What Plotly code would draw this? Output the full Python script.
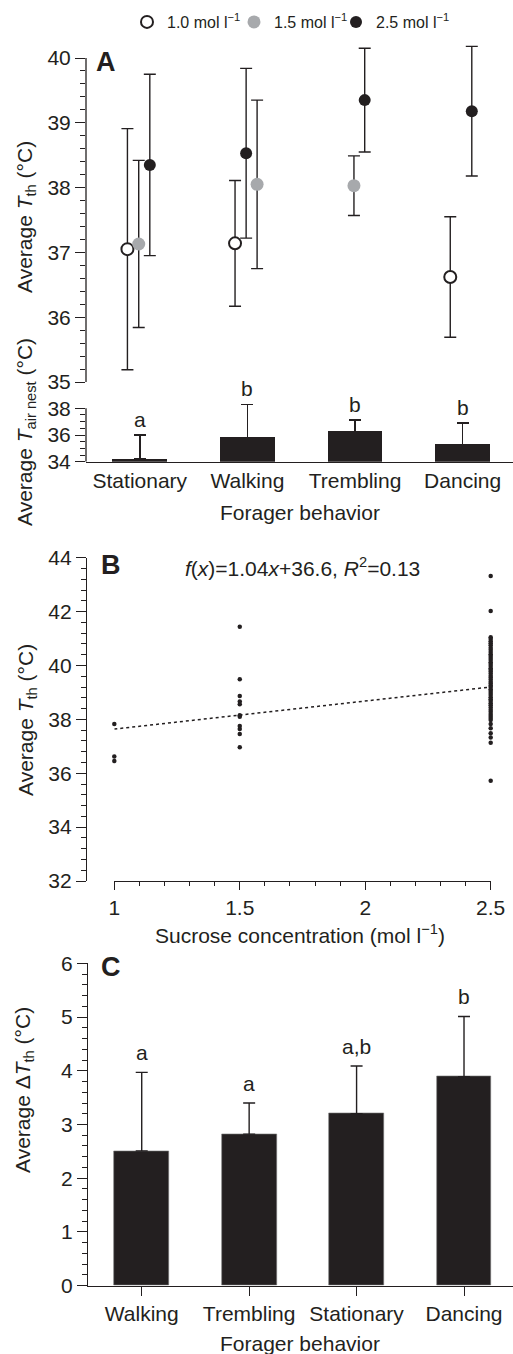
import plotly.graph_objects as go

# ---------------- data ----------------
# Panel A (upper): average thorax temperature per behaviour and sucrose concentration
behaviours_A = ["Stationary", "Walking", "Trembling", "Dancing"]
conc_names = ["1.0 mol l<sup>−1</sup>", "1.5 mol l<sup>−1</sup>", "2.5 mol l<sup>−1</sup>"]
tth_10_mean = [37.05, 37.14, None, 36.62]
tth_10_err = [1.86, 0.97, None, 0.93]
tth_15_mean = [37.13, 38.05, 38.03, None]
tth_15_err = [1.29, 1.30, 0.46, None]
tth_25_mean = [38.35, 38.53, 39.35, 39.18]
tth_25_err = [1.40, 1.31, 0.80, 1.00]

# Panel A (lower): average nest air temperature
air_nest_mean = [34.2, 35.8, 36.26, 35.3]
air_nest_err = [1.8, 2.5, 0.85, 1.6]
air_nest_letters = ["a", "b", "b", "b"]

# Panel B: individual thorax temperatures by sucrose concentration
tth_at_1_0 = [37.83, 36.62, 36.45]
tth_at_1_5 = [41.44, 39.49, 38.87, 38.66, 38.56, 38.15, 38.10, 37.75, 37.64, 37.46, 36.96]
tth_at_2_5 = [43.32, 42.02, 41.05, 40.98, 40.90, 40.82, 40.75, 40.66, 40.58, 40.50,
              40.42, 40.35, 40.28, 40.20, 40.12, 40.05, 39.98, 39.90, 39.84, 39.78,
              39.70, 39.62, 39.55, 39.48, 39.40, 39.33, 39.26, 39.20, 39.12, 39.05,
              38.98, 38.90, 38.82, 38.75, 38.68, 38.60, 38.52, 38.44, 38.36, 38.28,
              38.20, 38.12, 38.05, 37.98, 37.83, 37.67, 37.48, 37.33, 37.13, 35.72]
fit_slope = 1.04
fit_intercept = 36.6
fit_r2 = 0.13
fit_x = [1.0, 2.5]

# Panel C: average delta thorax temperature
behaviours_C = ["Walking", "Trembling", "Stationary", "Dancing"]
dtth_mean = [2.51, 2.82, 3.20, 3.89]
dtth_err = [1.46, 0.58, 0.89, 1.12]
dtth_letters = ["a", "a", "a,b", "b"]

# tick values
ticks_A_upper = [35, 36, 37, 38, 39, 40]
ticks_A_lower = [34, 36, 38]
ticks_B_y = [32, 34, 36, 38, 40, 42, 44]
ticks_B_x = [1, 1.5, 2, 2.5]
ticks_B_xtext = ["1", "1.5", "2", "2.5"]
ticks_C_y = [0, 1, 2, 3, 4, 5, 6]

# ---------------- style ----------------
W, H = 513, 1354
INK = "#231f20"
GREY = "#a7a9ac"
FONT = "Liberation Sans"
TICKF = 21


def py(p):
    return 1 - p / H


def px(p):
    return p / W


def minor_vals(lo, hi, step):
    n = int(round((hi - lo) / step))
    return [round(lo + k * step, 4) for k in range(n + 1)]


# dodge offsets within each behaviour (category units)
shift_10 = [-0.115, -0.115, -0.115, -0.115]
shift_15 = [-0.01, 0.09, -0.01, -0.01]
shift_25 = [0.093, -0.012, 0.09, 0.085]

fig = go.Figure()


def add_series(means, errs, shifts, name, marker, legend_id):
    xs, ys, es = [], [], []
    for i, (m, e) in enumerate(zip(means, errs)):
        if m is None:
            continue
        xs.append(i + shifts[i])
        ys.append(m)
        es.append(e)
    fig.add_trace(go.Scatter(
        x=xs, y=ys, mode="markers", name=name, xaxis="x", yaxis="y",
        marker=marker, cliponaxis=False, showlegend=True, legend=legend_id,
        error_y=dict(type="data", array=es, visible=True, color=INK, thickness=1.4, width=6),
    ))


add_series(tth_10_mean, tth_10_err, shift_10, conc_names[0],
           dict(symbol="circle", size=12, color="white", line=dict(color=INK, width=2)), "legend")
add_series(tth_15_mean, tth_15_err, shift_15, conc_names[1],
           dict(symbol="circle", size=13, color=GREY, line=dict(width=0)), "legend2")
add_series(tth_25_mean, tth_25_err, shift_25, conc_names[2],
           dict(symbol="circle", size=12, color=INK, line=dict(width=0)), "legend3")

# Panel A lower bars
cat_idx_A = list(range(len(behaviours_A)))
fig.add_trace(go.Bar(
    x=cat_idx_A, y=air_nest_mean, width=0.51, xaxis="x2", yaxis="y2",
    marker=dict(color=INK, line=dict(width=0)), showlegend=False,
    error_y=dict(type="data", symmetric=False, array=air_nest_err,
                 arrayminus=[0] * len(air_nest_err), color=INK, thickness=1.4, width=6)))

# Panel B scatter
b_x = [1.0] * len(tth_at_1_0) + [1.5] * len(tth_at_1_5) + [2.5] * len(tth_at_2_5)
b_y = tth_at_1_0 + tth_at_1_5 + tth_at_2_5
fig.add_trace(go.Scatter(
    x=fit_x, y=[fit_slope * v + fit_intercept for v in fit_x], mode="lines",
    xaxis="x4", yaxis="y3", line=dict(color=INK, width=1.5, dash="dot"), showlegend=False))
fig.add_trace(go.Scatter(
    x=b_x, y=b_y, mode="markers", xaxis="x4", yaxis="y3", cliponaxis=False,
    marker=dict(size=4.5, color=INK), showlegend=False))

# Panel C bars
cat_idx_C = list(range(len(behaviours_C)))
fig.add_trace(go.Bar(
    x=cat_idx_C, y=dtth_mean, width=0.51, xaxis="x5", yaxis="y4",
    marker=dict(color=INK, line=dict(width=0.6, color="#777")), showlegend=False,
    error_y=dict(type="data", symmetric=False, array=dtth_err,
                 arrayminus=[0] * len(dtth_err), color=INK, thickness=1.4, width=6),
))

axis_common = dict(showgrid=False, zeroline=False, showline=True, linecolor=INK, linewidth=1.3,
                   ticks="outside", tickcolor=INK, tickwidth=1.3, ticklen=10,
                   tickfont=dict(family=FONT, size=TICKF, color=INK))
minor_common = dict(ticks="outside", ticklen=5, tickcolor=INK, tickwidth=1.2, tickmode="array")

x_dom_A = [px(86), 1.0]
x_rng_A = [-0.5, 3.468]

# panel A upper: 40 at 58 px, 35 at 382 px; axis range extended above 40 for error caps
A_up_top = 40.35
A_up_pxunit = (382 - 58) / 5.0
# panel A lower: 38 at 408.3 px, 34 at 461.7 px; extended for letters/error caps
A_lo_top = 38.6
A_lo_pxunit = (461.7 - 408.3) / 4.0


def legend_box(left_px):
    return dict(orientation="h", x=px(left_px), xanchor="left", y=py(22), yanchor="middle",
                font=dict(family=FONT, size=16, color=INK), itemwidth=30,
                bgcolor="rgba(0,0,0,0)")


layout = dict(
    width=W, height=H, autosize=False,
    margin=dict(l=0, r=0, t=0, b=0, autoexpand=False),
    paper_bgcolor="white", plot_bgcolor="white",
    font=dict(family=FONT, color=INK),
    bargap=0,
    showlegend=True,
    legend=legend_box(127),
    legend2=legend_box(234),
    legend3=legend_box(336),
    xaxis=dict(domain=x_dom_A, range=x_rng_A, anchor="y", visible=False),
    yaxis=dict(axis_common, domain=[py(382), py(58 - (A_up_top - 40) * A_up_pxunit)],
               range=[35, A_up_top], anchor="x", showline=False,
               tickvals=ticks_A_upper,
               minor=dict(minor_common, tickvals=minor_vals(35, 40, 0.2))),
    xaxis2=dict(axis_common, domain=x_dom_A, range=x_rng_A, anchor="y2",
                tickvals=cat_idx_A, ticktext=behaviours_A, ticks=""),
    xaxis3=dict(axis_common, domain=x_dom_A, range=x_rng_A, anchor="y2", overlaying="x2",
                tickvals=[-0.5, 0.5, 1.5, 2.5], showticklabels=False, showline=False),
    yaxis2=dict(axis_common, domain=[py(461.7), py(408.3 - (A_lo_top - 38) * A_lo_pxunit)],
                range=[34, A_lo_top], anchor="x2", showline=False,
                tickvals=ticks_A_lower,
                minor=dict(minor_common, tickvals=minor_vals(34, 38, 0.5))),
    xaxis4=dict(axis_common, domain=[px(114.3), px(490.7)], range=[1, 2.5], anchor="y3",
                tickvals=ticks_B_x, ticktext=ticks_B_xtext, ticklen=8,
                minor=dict(minor_common, ticklen=4, tickvals=minor_vals(1, 2.5, 0.1))),
    yaxis3=dict(axis_common, domain=[py(881), py(557.7)], range=[32, 44], anchor="free",
                position=px(86), tickvals=ticks_B_y,
                minor=dict(minor_common, tickvals=minor_vals(32, 44, 0.4))),
    xaxis5=dict(axis_common, domain=[px(88), 1.0], range=[-0.5, 3.456], anchor="y4",
                tickvals=cat_idx_C, ticktext=behaviours_C, ticklen=9),
    yaxis4=dict(axis_common, domain=[py(1285.7), py(963.3)], range=[0, 6], anchor="x5",
                tickvals=ticks_C_y,
                minor=dict(minor_common, tickvals=minor_vals(0, 6, 0.2))),
)
fig.update_layout(**layout)

# y-axis lines of panel A drawn only over the labelled span
fig.add_shape(type="line", xref="paper", yref="y", x0=px(86), x1=px(86),
              y0=ticks_A_upper[0], y1=ticks_A_upper[-1], line=dict(color=INK, width=1.3))
fig.add_shape(type="line", xref="paper", yref="y2", x0=px(86), x1=px(86),
              y0=ticks_A_lower[0], y1=ticks_A_lower[-1], line=dict(color=INK, width=1.3))

ann = []
# significance letters, panel A lower
for i, (m, e, t) in enumerate(zip(air_nest_mean, air_nest_err, air_nest_letters)):
    ann.append(dict(x=i, y=m + e, xref="x2", yref="y2", text=t, showarrow=False,
                    yanchor="bottom", yshift=2, font=dict(size=TICKF, color=INK, family=FONT)))
# significance letters, panel C
for i, (m, e, t) in enumerate(zip(dtth_mean, dtth_err, dtth_letters)):
    ann.append(dict(x=i, y=m + e, xref="x5", yref="y4", text=t, showarrow=False,
                    yanchor="bottom", yshift=6, font=dict(size=TICKF, color=INK, family=FONT)))

# panel letters
for lab, (lx, ly) in {"A": (106, 62), "B": (111, 565), "C": (111, 967)}.items():
    ann.append(dict(x=px(lx), y=py(ly), xref="paper", yref="paper", text="<b>%s</b>" % lab,
                    showarrow=False, xanchor="center", yanchor="middle",
                    font=dict(size=27, color=INK, family=FONT)))

# regression equation
ann.append(dict(x=px(302), y=py(567), xref="paper", yref="paper", showarrow=False,
                xanchor="center", yanchor="middle",
                text="<i>f</i>(<i>x</i>)=%.2f<i>x</i>+%.1f, <i>R</i><sup>2</sup>=%.2f" % (fit_slope, fit_intercept, fit_r2),
                font=dict(size=TICKF, color=INK, family=FONT)))

# axis titles
titles = [
    ("Average <i>T</i><sub>th</sub> (°C)", 26, 217, -90),
    ("Average <i>T</i><sub>air nest</sub> (°C)", 26, 432, -90),
    ("Forager behavior", 300, 512, 0),
    ("Average <i>T</i><sub>th</sub> (°C)", 27, 720, -90),
    ("Sucrose concentration (mol l<sup>−1</sup>)", 300, 934, 0),
    ("Average Δ<i>T</i><sub>th</sub> (°C)", 24, 1090, -90),
    ("Forager behavior", 300, 1343, 0),
]
for t, tx, ty, ang in titles:
    ann.append(dict(x=px(tx), y=py(ty), xref="paper", yref="paper", text=t, textangle=ang,
                    showarrow=False, xanchor="center", yanchor="middle",
                    font=dict(size=TICKF, color=INK, family=FONT)))

fig.update_layout(annotations=ann)
fig.write_html("out.html", config={"displayModeBar": False},
               post_script="document.body.style.margin='0';document.body.style.overflow='hidden';")
